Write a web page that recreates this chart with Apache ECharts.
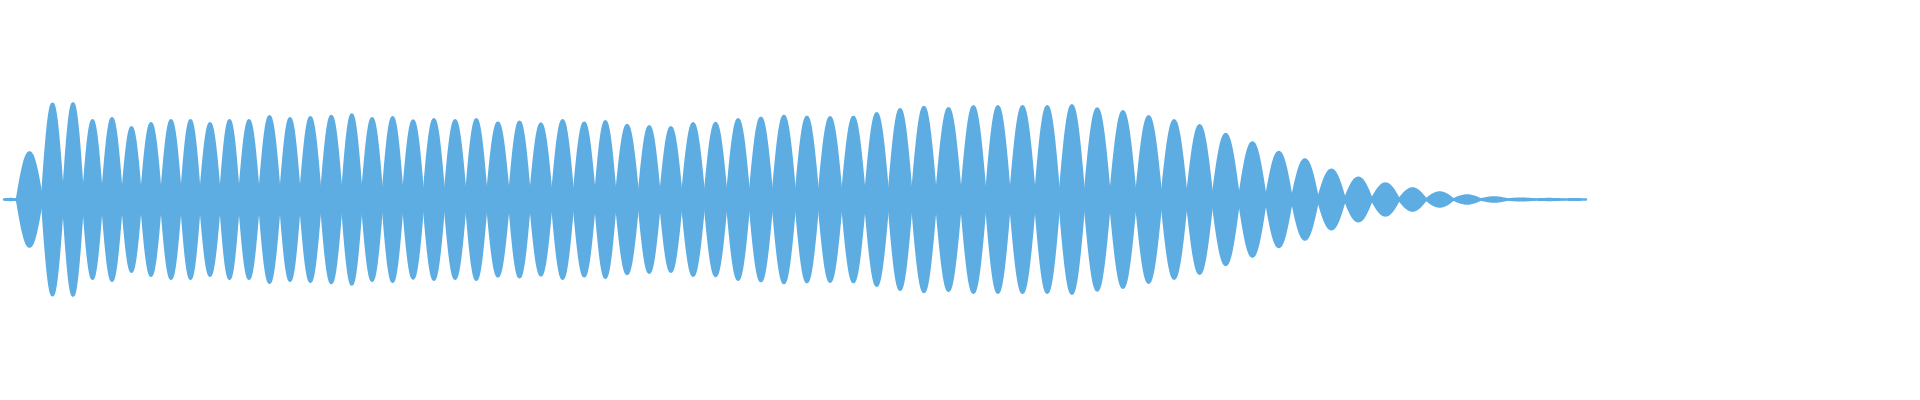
<!DOCTYPE html>
<html>
<head>
<meta charset="utf-8">
<script src="https://cdn.jsdelivr.net/npm/echarts@6/dist/echarts.min.js"></script>
<style>
html,body{margin:0;padding:0;background:#ffffff;}
#chart{width:1920px;height:400px;}
</style>
</head>
<body>
<div id="chart"></div>
<script>
// Time (seconds) at which the waveform envelope crosses zero (lobe boundaries)
var zeroCrossings = [
  0, 0.065, 0.19, 0.295, 0.395, 0.49, 0.59, 0.685, 0.785, 0.885, 0.98,
  1.08, 1.175, 1.275, 1.38, 1.48, 1.584, 1.689, 1.789, 1.892, 1.994,
  2.097, 2.202, 2.309, 2.414, 2.525, 2.63, 2.739, 2.847, 2.955, 3.059,
  3.172, 3.28, 3.389, 3.502, 3.614, 3.727, 3.842, 3.957, 4.072, 4.189,
  4.305, 4.422, 4.539, 4.66, 4.785, 4.909, 5.03, 5.155, 5.277, 5.402,
  5.53, 5.659, 5.787, 5.914, 6.042, 6.175, 6.309, 6.439, 6.57, 6.704,
  6.839, 6.975, 7.11, 7.247, 7.384, 7.517, 7.655, 7.795, 7.91
];
// Peak amplitude of each lobe (between consecutive zero crossings)
var peakAmplitudes = [
  0.2,
  23.6, 48.0, 48.2, 39.7, 40.7, 36.2, 38.2, 39.7, 39.7, 38.2,
  39.7, 39.7, 41.7, 40.7, 41.2, 41.9, 42.6, 40.7, 41.2, 39.6,
  40.2, 39.7, 40.2, 38.5, 39.0, 38.0, 39.7, 38.5, 39.2, 37.3,
  36.7, 36.2, 38.2, 38.3, 40.2, 40.9, 41.9, 41.4, 41.2, 41.4,
  43.2, 45.2, 46.4, 45.7, 46.7, 46.7, 46.7, 46.7, 47.2, 45.6,
  44.2, 41.7, 39.7, 37.2, 32.8, 28.6, 23.8, 20.1, 14.9, 10.9,
  8.0, 5.5, 3.5, 2.0, 1.0, 0.4, 0.2,
  0.1
];

var waveColor = '#5dade2';

var lobes = [];
for (var i = 0; i < peakAmplitudes.length; i++) {
  lobes.push([zeroCrossings[i], zeroCrossings[i + 1], peakAmplitudes[i]]);
}

var chart = echarts.init(document.getElementById('chart'), null, {renderer: 'canvas'});
chart.setOption({
  animation: false,
  backgroundColor: '#ffffff',
  grid: {left: 4, right: 0, top: 0, bottom: 1},
  xAxis: {type: 'value', min: 0, max: 9.58, show: false},
  yAxis: {type: 'value', min: -100, max: 100, show: false},
  series: [{
    type: 'custom',
    data: lobes,
    clip: false,
    renderItem: function (params, api) {
      var x0 = api.value(0), x1 = api.value(1), a = api.value(2);
      var n = 28, top = [], bottom = [];
      for (var k = 0; k <= n; k++) {
        var u = k / n;
        var x = x0 + (x1 - x0) * u;
        var y = a * Math.sin(Math.PI * u);
        top.push(api.coord([x, y]));
        bottom.unshift(api.coord([x, -y]));
      }
      return {
        type: 'polygon',
        shape: {points: top.concat(bottom)},
        style: {fill: waveColor, stroke: waveColor, lineWidth: 2.5, lineJoin: 'round'}
      };
    }
  }]
});
</script>
</body>
</html>
